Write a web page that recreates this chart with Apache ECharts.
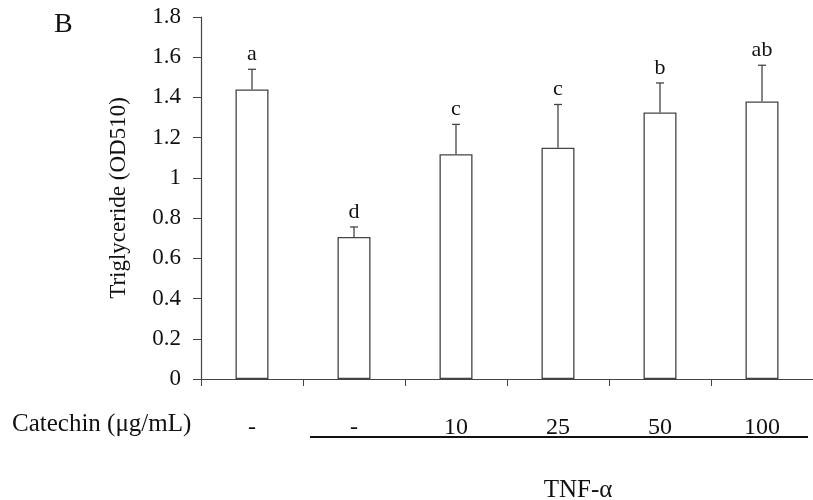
<!DOCTYPE html>
<html><head><meta charset="utf-8">
<script src="https://cdn.jsdelivr.net/npm/echarts@6/dist/echarts.min.js"></script>
<style>html,body{margin:0;padding:0;background:#fff}#c{width:813px;height:500px}</style>
</head><body><div id="c"></div>
<script>
var categories = ['-', '-', '10', '25', '50', '100'];
var means = [1.44, 0.706, 1.118, 1.150, 1.325, 1.380];
var errors = [0.10, 0.05, 0.148, 0.215, 0.147, 0.18];
var letters = ['a', 'd', 'c', 'c', 'b', 'ab'];
var yTicks = [0, 0.2, 0.4, 0.6, 0.8, 1, 1.2, 1.4, 1.6, 1.8];

var FONT = 'Liberation Serif';
var chart = echarts.init(document.getElementById('c'));
var errData = means.map(function (m, i) { return [i, m, m + errors[i], letters[i]]; });

chart.setOption({
  animation: false,
  grid: { left: 201, right: 0, top: 17, bottom: 121, containLabel: false },
  xAxis: {
    type: 'category', data: categories,
    axisLine: { lineStyle: { color: '#444', width: 1.2 } },
    axisTick: { show: true, length: 7, lineStyle: { color: '#444' } },
    axisLabel: { margin: 37, fontFamily: FONT, fontSize: 24, color: '#111' }
  },
  yAxis: {
    type: 'value', min: 0, max: 1.8, interval: 0.2,
    name: 'Triglyceride (OD510)', nameLocation: 'middle', nameRotate: 90, nameGap: 71,
    nameTextStyle: { fontFamily: FONT, fontSize: 23, color: '#111' },
    axisLine: { show: true, lineStyle: { color: '#444', width: 1.2 } },
    axisTick: { show: true, length: 8, lineStyle: { color: '#444' } },
    splitLine: { show: false },
    axisLabel: { margin: 20, fontFamily: FONT, fontSize: 23, color: '#111',
      formatter: function (v) { return String(Math.round(v * 10) / 10); } }
  },
  series: [{
    type: 'bar', data: means, barWidth: 33,
    itemStyle: { color: '#fff', borderColor: '#444', borderWidth: 1.3 }
  }, {
    type: 'custom', data: errData,
    encode: { x: 0, y: [1, 2] },
    renderItem: function (params, api) {
      var x = api.value(0);
      var p0 = api.coord([x, api.value(1)]);
      var p1 = api.coord([x, api.value(2)]);
      var st = { stroke: '#444', lineWidth: 1.3 };
      return { type: 'group', children: [
        { type: 'line', shape: { x1: p0[0], y1: p0[1], x2: p1[0], y2: p1[1] }, style: st },
        { type: 'line', shape: { x1: p1[0] - 4, y1: p1[1], x2: p1[0] + 4, y2: p1[1] }, style: st },
        { type: 'text', x: p1[0], y: p1[1] - 4, style: { text: api.value(3), fontFamily: FONT, fontSize: 22,
          fill: '#111', align: 'center', verticalAlign: 'bottom' } }
      ] };
    }
  }],
  graphic: [
    { type: 'text', left: 54, top: 11, style: { text: 'B', fontFamily: FONT, fontSize: 28, fill: '#111' } },
    { type: 'text', left: 12, top: 412, style: { text: 'Catechin (μg/mL)', fontFamily: FONT, fontSize: 25, fill: '#111' } },
    { type: 'line', shape: { x1: 310, y1: 437, x2: 808, y2: 437 }, style: { stroke: '#111', lineWidth: 2 } },
    { type: 'text', x: 578, y: 490, style: { text: 'TNF-α', fontFamily: FONT, fontSize: 25, fill: '#111', align: 'center', verticalAlign: 'middle' } }
  ]
});
</script></body></html>
